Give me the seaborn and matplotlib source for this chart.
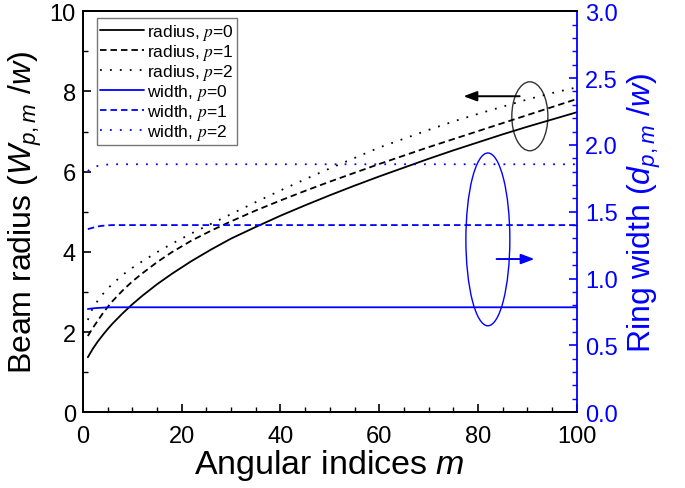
import numpy as np
import pandas as pd
import seaborn as sns
import matplotlib.pyplot as plt
from matplotlib.patches import Ellipse
from matplotlib.font_manager import FontProperties
from matplotlib.ticker import MultipleLocator

# values
m = [1, 2, 3, 4, 5, 6, 8, 10, 12, 15, 18, 22, 26, 30, 35, 40, 45, 50,
     55, 60, 65, 70, 75, 80, 85, 90, 95, 100]
radius_p0 = [1.37, 1.58, 1.76, 1.92, 2.07, 2.21, 2.46, 2.69, 2.9, 3.19, 3.45, 3.77, 4.06, 4.33,
             4.62, 4.9, 5.16, 5.41, 5.65, 5.88, 6.1, 6.32, 6.53, 6.73, 6.93, 7.12, 7.3, 7.48]
radius_p1 = [1.9, 2.1, 2.28, 2.46, 2.62, 2.77, 3.03, 3.26, 3.46, 3.74, 3.99, 4.28, 4.53, 4.76,
             5.03, 5.28, 5.52, 5.75, 5.97, 6.19, 6.4, 6.61, 6.81, 7.01, 7.21, 7.41, 7.61, 7.81]
radius_p2 = [2.3, 2.6, 2.78, 2.94, 3.08, 3.2, 3.42, 3.6, 3.76, 3.99, 4.2, 4.46, 4.7, 4.94,
             5.24, 5.53, 5.81, 6.08, 6.34, 6.6, 6.82, 7.04, 7.25, 7.44, 7.62, 7.8, 7.96, 8.1]
width_p0 = [0.772, 0.777, 0.78, 0.782, 0.784] + [0.785] * 23
width_p1 = [1.37, 1.38, 1.39, 1.395, 1.398] + [1.40] * 23
width_p2 = [1.805, 1.83, 1.842, 1.85, 1.853] + [1.855] * 23

df = pd.DataFrame({'m': m, 'r0': radius_p0, 'r1': radius_p1, 'r2': radius_p2,
                   'w0': width_p0, 'w1': width_p1, 'w2': width_p2})

sns.set_style('ticks')
plt.rcParams['font.family'] = ['Liberation Sans', 'DejaVu Sans']
plt.rcParams['mathtext.fontset'] = 'custom'
plt.rcParams['mathtext.rm'] = 'Liberation Sans'
plt.rcParams['mathtext.it'] = 'Liberation Sans:italic'
plt.rcParams['xtick.direction'] = 'in'
plt.rcParams['ytick.direction'] = 'in'
for k in ['text.color', 'axes.labelcolor', 'xtick.color', 'ytick.color', 'axes.edgecolor']:
    plt.rcParams[k] = 'black'

blue = '#0000ff'
dash = (0, (3.6, 2.2))
dot = (0, (1, 4.5))
fig = plt.figure(figsize=(6.85, 4.89), dpi=100)
ax = fig.add_axes([0.121, 0.155, 0.721, 0.82])
ax2 = ax.twinx()

lw = 1.3
sns.lineplot(data=df, x='m', y='r0', ax=ax, color='black', lw=lw, label='radius, $p$=0')
sns.lineplot(data=df, x='m', y='r1', ax=ax, color='black', lw=lw, ls=dash, label='radius, $p$=1')
sns.lineplot(data=df, x='m', y='r2', ax=ax, color='black', lw=lw, ls=dot, label='radius, $p$=2')
sns.lineplot(data=df, x='m', y='w0', ax=ax2, color=blue, lw=lw, label='width, $p$=0')
sns.lineplot(data=df, x='m', y='w1', ax=ax2, color=blue, lw=lw, ls=dash, label='width, $p$=1')
sns.lineplot(data=df, x='m', y='w2', ax=ax2, color=blue, lw=lw, ls=dot, label='width, $p$=2')

ax.set_xlim(0, 100)
ax.set_ylim(0, 10)
ax2.set_ylim(0, 3.0)
ax.xaxis.set_major_locator(MultipleLocator(20))
ax.xaxis.set_minor_locator(MultipleLocator(5))
ax.yaxis.set_major_locator(MultipleLocator(2))
ax.yaxis.set_minor_locator(MultipleLocator(1))
ax2.yaxis.set_major_locator(MultipleLocator(0.5))
ax2.yaxis.set_minor_locator(MultipleLocator(0.1))
ax2.yaxis.set_major_formatter(plt.FormatStrFormatter('%.1f'))

ax.tick_params(axis='both', which='major', labelsize=17, length=6, width=1.2, colors='black')
ax.tick_params(axis='both', which='minor', length=3.5, width=1, colors='black')
ax.tick_params(axis='x', which='major', pad=9)
ax.tick_params(axis='y', which='major', pad=5)
ax.tick_params(axis='y', which='both', right=False)
ax.tick_params(axis='x', which='both', top=False)
ax2.tick_params(axis='y', which='major', labelsize=17, length=6, width=1.2, colors=blue, pad=6)
ax2.tick_params(axis='y', which='minor', length=3.5, width=1, colors=blue)
ax2.tick_params(axis='x', which='both', top=False)

for s in ['left', 'bottom', 'top']:
    ax.spines[s].set_linewidth(1.3)
    ax2.spines[s].set_linewidth(1.3)
ax2.spines['right'].set_color(blue)
ax2.spines['right'].set_linewidth(1.3)
ax.spines['right'].set_visible(False)

ax.set_xlabel('Angular indices $m$', fontsize=24.5, labelpad=0)
ax.set_ylabel('Beam radius ($W_{p,m}$ /$w$)', fontsize=23, labelpad=4)
ax2.set_ylabel('Ring width ($d_{p,m}$ /$w$)', fontsize=23, color=blue, labelpad=6)

# legend combining both axes
h1, l1 = ax.get_legend_handles_labels()
h2, l2 = ax2.get_legend_handles_labels()
ax2.get_legend().remove()
ax.get_legend().remove()
prop = FontProperties(family='Liberation Sans', size=12.5, math_fontfamily='stix')
leg = ax2.legend(h1 + h2, l1 + l2, loc='upper left', bbox_to_anchor=(0.028, 0.982),
                 prop=prop, frameon=True, fancybox=False, handlelength=2.5,
                 handletextpad=0.2, labelspacing=0.0, borderpad=0.2, borderaxespad=0)
leg.get_frame().set_edgecolor('#555555')
leg.get_frame().set_linewidth(1.0)

# annotation ellipses and arrows
ax.add_patch(Ellipse((90.5, 7.38), 7.3, 1.72, fill=False, ec='#333333', lw=1.0))
ax.annotate('', xy=(76.5, 7.88), xytext=(89, 7.88),
            arrowprops=dict(arrowstyle='-|>,head_length=0.8,head_width=0.3', color='black', lw=1.4))
ax.add_patch(Ellipse((82.0, 4.31), 8.9, 4.31, fill=False, ec=blue, lw=1.0))
ax.annotate('', xy=(92.0, 3.82), xytext=(83.2, 3.82),
            arrowprops=dict(arrowstyle='-|>,head_length=0.8,head_width=0.3', color=blue, lw=1.4))

fig.savefig('out.png', dpi=100)
